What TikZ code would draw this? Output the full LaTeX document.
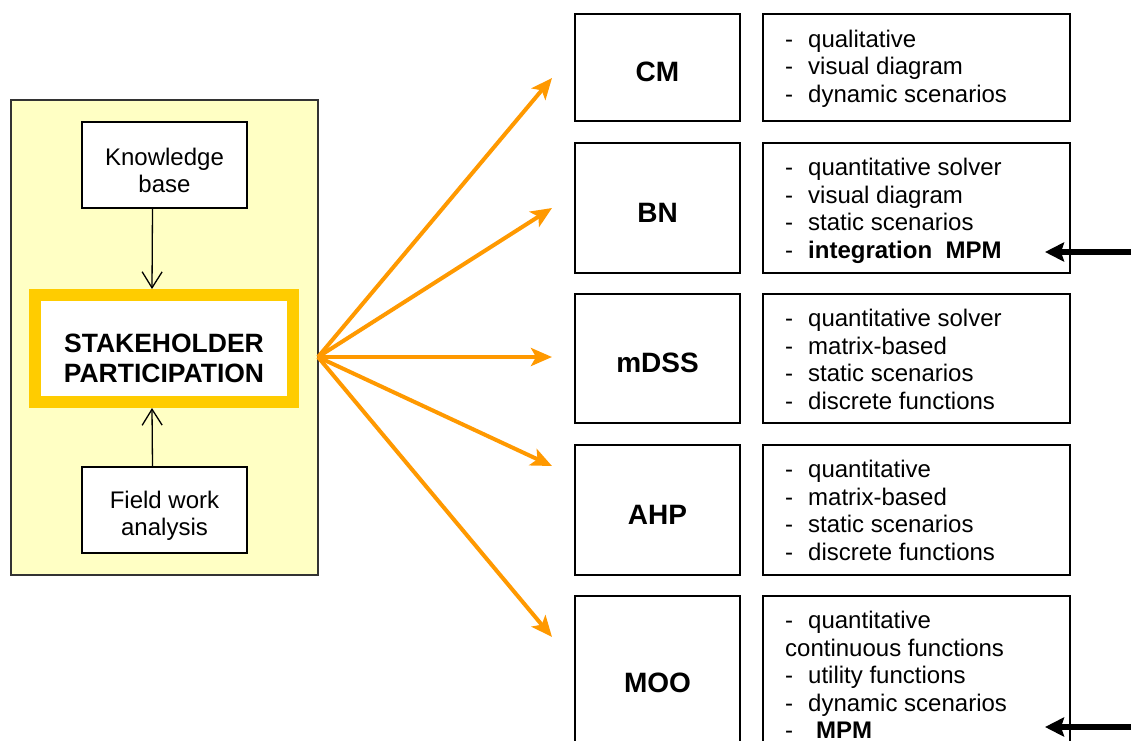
\documentclass[tikz,border=0pt]{standalone}
\usepackage{fontspec}
\setmainfont{Liberation Sans}
\usetikzlibrary{arrows.meta}
\definecolor{panelfill}{HTML}{FFFFC4}
\definecolor{stkgold}{HTML}{FFCC00}
\definecolor{arrorange}{HTML}{FF9900}
\definecolor{panelline}{HTML}{333333}
\newcommand\itemdash{\makebox[23pt][l]{-}}
\tikzset{
  panelbox/.style={draw=panelline, line width=2pt, fill=panelfill, minimum width=307pt, minimum height=475pt, inner sep=0pt},
  smallbox/.style={draw=black, line width=1.5pt, fill=white, minimum width=165pt, minimum height=86pt, inner sep=0pt},
  smalltext/.style={inner sep=0pt, align=center, font=\fontsize{24}{27}\selectfont},
  stakebox/.style={draw=stkgold, line width=12pt, fill=white, minimum width=258pt, minimum height=107pt, inner sep=0pt},
  staketext/.style={inner sep=0pt, align=center, font=\fontsize{26.5}{30}\selectfont\bfseries},
  namebox/.style={draw=black, line width=1.5pt, minimum width=165pt, inner sep=0pt, font=\fontsize{28}{30}\selectfont\bfseries, text height=28pt, text depth=0pt},
  detailbox/.style={draw=black, line width=1.5pt, minimum width=307pt, inner sep=0pt},
  detailtext/.style={anchor=north west, inner sep=0pt, align=left, font=\fontsize{24}{27.5}\selectfont},
  thinarrow/.style={draw=black, line width=1.3pt, -{Straight Barb[length=16pt, width=20pt, line width=1.3pt]}},
  orangearrow/.style={draw=arrorange, line width=4pt, -{Stealth[length=21pt, width=18pt, inset=5pt]}},
  blackarrow/.style={draw=black, line width=5.5pt, -{Stealth[length=19pt, width=19pt, inset=3pt]}}
}
\begin{document}
\begin{tikzpicture}[x=1pt, y=-1pt]
\useasboundingbox (0,0) rectangle (1131,740);
\clip (0,0) rectangle (1131,740);
\fill[white] (0,0) rectangle (1131,740);

% left panel
\node[panelbox] (panel) at (164.5,337.5) {};
\node[smallbox] (kb) at (164.5,165) {};
\node[smalltext] (kbt) at (164.5,170) {Knowledge\\base};
\node[smallbox] (fw) at (164.5,510) {};
\node[smalltext] (fwt) at (164.5,516) {Field work\\analysis};
\node[stakebox] (sp) at (164,348.5) {};
\node[staketext] (spt) at (164,358) {STAKEHOLDER\\PARTICIPATION};
\draw[thinarrow] ([xshift=-12pt]kb.south) -- ([xshift=-12pt]sp.north);
\draw[thinarrow] ([xshift=-12pt]fw.north) -- ([xshift=-12pt]sp.south);

% name boxes
\node[namebox, minimum height=107pt] (cm) at (657.5,67.5) {CM};
\node[namebox, minimum height=130pt] (bn) at (657.5,208) {BN};
\node[namebox, minimum height=129pt] (mdss) at (657.5,358.5) {mDSS};
\node[namebox, minimum height=130pt] (ahp) at (657.5,510) {AHP};
\node[namebox, minimum height=164pt] (moo) at (657.5,678) {MOO};

% detail boxes
\node[detailbox, minimum height=107pt] (cmd) at (916.5,67.5) {};
\node[detailbox, minimum height=130pt] (bnd) at (916.5,208) {};
\node[detailbox, minimum height=129pt] (mdssd) at (916.5,358.5) {};
\node[detailbox, minimum height=130pt] (ahpd) at (916.5,510) {};
\node[detailbox, minimum height=164pt] (mood) at (916.5,678) {};

\node[detailtext] (cmt) at (785,27.75) {\strut\itemdash qualitative\\\strut\itemdash visual diagram\\\strut\itemdash dynamic scenarios};
\node[detailtext] (bnt) at (785,156.25) {\strut\itemdash quantitative solver\\\strut\itemdash visual diagram\\\strut\itemdash static scenarios\\\strut\itemdash\textbf{integration\ \ MPM}};
\node[detailtext] (mdsst) at (785,307.25) {\strut\itemdash quantitative solver\\\strut\itemdash matrix-based\\\strut\itemdash static scenarios\\\strut\itemdash discrete functions};
\node[detailtext] (ahpt) at (785,458.25) {\strut\itemdash quantitative\\\strut\itemdash matrix-based\\\strut\itemdash static scenarios\\\strut\itemdash discrete functions};
\node[detailtext] (moot) at (785,609.25) {\strut\itemdash quantitative\\\strut continuous functions\\\strut\itemdash utility functions\\\strut\itemdash dynamic scenarios\\\strut\itemdash\hspace{8pt}\textbf{MPM}};

% orange arrows
\coordinate (src) at (318,357);
\coordinate (tcm) at (552,78);
\coordinate (tbn) at (552,208);
\coordinate (tmdss) at (552,357);
\coordinate (tahp) at (552,466);
\coordinate (tmoo) at (552,637);
\draw[orangearrow] (src) -- (tcm);
\draw[orangearrow] (src) -- (tbn);
\draw[orangearrow] (src) -- (tmdss);
\draw[orangearrow] (src) -- (tahp);
\draw[orangearrow] (src) -- (tmoo);

% black arrows
\coordinate (bnsrc) at (1131,252);
\coordinate (bntip) at (1045,252);
\coordinate (moosrc) at (1131,727);
\coordinate (mootip) at (1045,727);
\draw[blackarrow] (bnsrc) -- (bntip);
\draw[blackarrow] (moosrc) -- (mootip);
\end{tikzpicture}
\end{document}
